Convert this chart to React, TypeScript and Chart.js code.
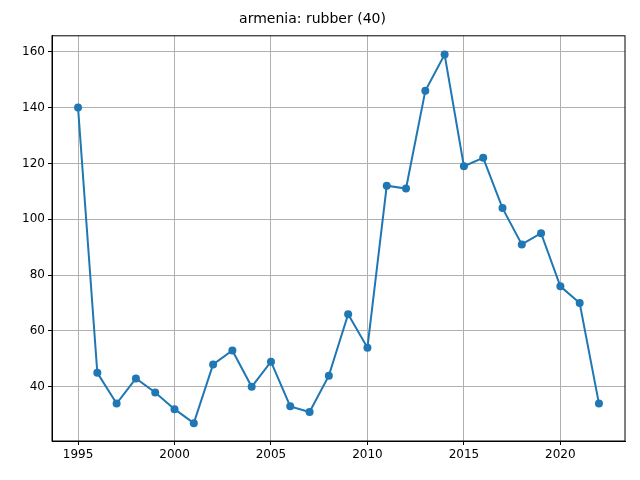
import { useEffect, useRef } from "react";
import { Chart, registerables } from "chart.js";

Chart.register(...registerables);

const years = [1995, 1996, 1997, 1998, 1999, 2000, 2001, 2002, 2003, 2004, 2005, 2006, 2007, 2008, 2009, 2010, 2011, 2012, 2013, 2014, 2015, 2016, 2017, 2018, 2019, 2020, 2021, 2022];
const values = [140, 45, 34, 43, 38, 32, 27, 48, 53, 40, 49, 33, 31, 44, 66, 54, 112, 111, 146, 159, 119, 122, 104, 91, 95, 76, 70, 34];
const xTicks = [1995, 2000, 2005, 2010, 2015, 2020];
const yTicks = [40, 60, 80, 100, 120, 140, 160];

const frame = {
  id: "frame",
  afterDraw(chart: Chart) {
    const { ctx, chartArea: a } = chart;
    ctx.save();
    ctx.strokeStyle = "#000";
    ctx.lineWidth = 1;
    ctx.strokeRect(a.left, a.top, a.right - a.left, a.bottom - a.top);
    ctx.restore();
  },
};

export default function App() {
  const canvasRef = useRef<HTMLCanvasElement>(null);

  useEffect(() => {
    document.body.style.margin = "0";
    if (!canvasRef.current) return;
    const font = { family: "DejaVu Sans", size: 12 };
    const chart = new Chart(canvasRef.current, {
      type: "line",
      data: {
        datasets: [
          {
            data: years.map((y, i) => ({ x: y, y: values[i] })),
            borderColor: "#1f77b4",
            backgroundColor: "#1f77b4",
            pointRadius: 4,
            pointBorderWidth: 0,
            borderWidth: 2,
            tension: 0,
          },
        ],
      },
      options: {
        animation: false,
        responsive: false,
        layout: { padding: { right: 15, left: 0, top: 0, bottom: 0 } },
        plugins: {
          legend: { display: false },
          tooltip: { enabled: false },
          title: {
            display: true,
            text: "armenia: rubber (40)",
            color: "#000",
            font: { family: "DejaVu Sans", size: 14, weight: "normal" },
            padding: { top: 11, bottom: 8 },
          },
        },
        scales: {
          x: {
            type: "linear",
            min: 1993.65,
            max: 2023.35,
            afterBuildTicks: (s: any) => { s.ticks = xTicks.map((v) => ({ value: v })); },
            afterFit: (s: any) => { s.height = 39; },
            grid: { color: "#b0b0b0", tickLength: 4, tickColor: "#000" },
            border: { color: "#000" },
            ticks: { color: "#000", font, maxRotation: 0, callback: (v: any) => String(v) },
          },
          y: {
            min: 20.6,
            max: 165.7,
            afterBuildTicks: (s: any) => { s.ticks = yTicks.map((v) => ({ value: v })); },
            afterFit: (s: any) => { s.width = 52; },
            grid: { color: "#b0b0b0", tickLength: 4, tickColor: "#000" },
            border: { color: "#000" },
            ticks: { color: "#000", font },
          },
        },
      },
      plugins: [frame],
    });
    return () => chart.destroy();
  }, []);

  return <canvas ref={canvasRef} width={640} height={480} style={{ display: "block" }} />;
}
